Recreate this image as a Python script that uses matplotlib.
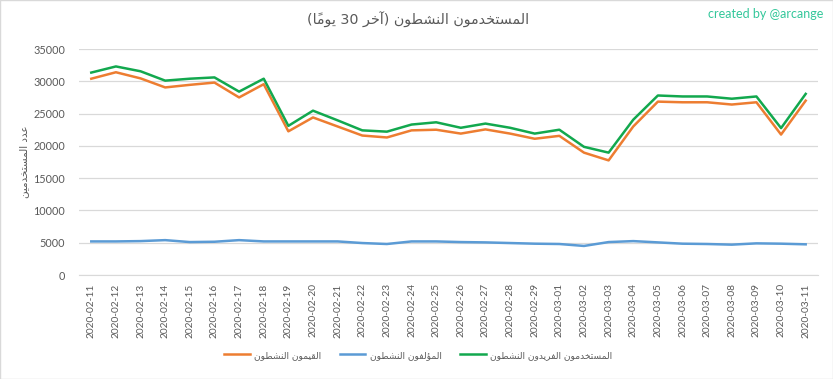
import matplotlib
matplotlib.use("Agg")
import matplotlib.pyplot as plt
from matplotlib.patches import Rectangle
import pandas as pd

# labels
title = "المستخدمون النشطون (آخر 30 يومًا)"
ylabel = "عدد المستخدمين"
credit = "created by @arcange"
names = ["القيمون النشطون", "المؤلفون النشطون", "المستخدمون الفريدون النشطون"]
dates = pd.date_range("2020-02-11", periods=30).strftime("%Y-%m-%d").tolist()

# values
curators = [30400, 31400, 30450, 29050, 29450, 29800, 27500, 29550, 22250, 24400,
            23000, 21600, 21300, 22400, 22500, 21900, 22550, 21900, 21100, 21550,
            18950, 17750, 23000, 26850, 26750, 26750, 26400, 26750, 21750, 27000]
authors = [5200, 5200, 5250, 5400, 5100, 5150, 5400, 5200, 5200, 5200,
           5200, 4950, 4800, 5200, 5200, 5100, 5050, 4950, 4850, 4800,
           4500, 5100, 5250, 5050, 4850, 4800, 4700, 4900, 4850, 4750]
unique = [31350, 32300, 31550, 30100, 30400, 30600, 28400, 30400, 23100, 25450,
          23950, 22400, 22200, 23300, 23650, 22800, 23450, 22800, 21900, 22500,
          19850, 18950, 24050, 27800, 27650, 27650, 27300, 27650, 22750, 28050]

# matplotlib has no arabic shaping, so do it by hand: pick contextual
# presentation forms, then put everything in visual (left to right) order
FORMS = {  # isolated, final, initial, medial
    "ا": ("\uFE8D", "\uFE8E", None, None),
    "آ": ("\uFE81", "\uFE82", None, None),
    "ل": ("\uFEDD", "\uFEDE", "\uFEDF", "\uFEE0"),
    "م": ("\uFEE1", "\uFEE2", "\uFEE3", "\uFEE4"),
    "س": ("\uFEB1", "\uFEB2", "\uFEB3", "\uFEB4"),
    "ت": ("\uFE95", "\uFE96", "\uFE97", "\uFE98"),
    "خ": ("\uFEA5", "\uFEA6", "\uFEA7", "\uFEA8"),
    "د": ("\uFEA9", "\uFEAA", None, None),
    "و": ("\uFEED", "\uFEEE", None, None),
    "ن": ("\uFEE5", "\uFEE6", "\uFEE7", "\uFEE8"),
    "ش": ("\uFEB5", "\uFEB6", "\uFEB7", "\uFEB8"),
    "ط": ("\uFEC1", "\uFEC2", "\uFEC3", "\uFEC4"),
    "ر": ("\uFEAD", "\uFEAE", None, None),
    "ي": ("\uFEF1", "\uFEF2", "\uFEF3", "\uFEF4"),
    "ع": ("\uFEC9", "\uFECA", "\uFECB", "\uFECC"),
    "ق": ("\uFED5", "\uFED6", "\uFED7", "\uFED8"),
    "ؤ": ("\uFE85", "\uFE86", None, None),
    "ف": ("\uFED1", "\uFED2", "\uFED3", "\uFED4"),
}
MARKS = {"\u064B"}


def shape(s):
    chars = list(s)
    n = len(chars)
    out = []
    for i, c in enumerate(chars):
        if c not in FORMS:
            out.append(c)
            continue
        j = i - 1
        while j >= 0 and chars[j] in MARKS:
            j -= 1
        k = i + 1
        while k < n and chars[k] in MARKS:
            k += 1
        prev_j = j >= 0 and chars[j] in FORMS and FORMS[chars[j]][2] is not None
        next_j = k < n and chars[k] in FORMS and FORMS[c][2] is not None
        iso, fin, ini, med = FORMS[c]
        if prev_j and next_j:
            out.append(med)
        elif prev_j:
            out.append(fin)
        elif next_j:
            out.append(ini)
        else:
            out.append(iso)
    clusters = []
    for c in out:
        if c in MARKS and clusters:
            # mark glyph draws to the right of its origin, so it goes first
            clusters[-1] = c + clusters[-1]
        elif c.isdigit() and clusters and clusters[-1].isdigit():
            clusters[-1] += c
        else:
            clusters.append(c)
    mirror = {"(": ")", ")": "("}
    return "".join(mirror.get(c, c) for c in clusters[::-1])


plt.rcParams["font.family"] = ["Lato", "DejaVu Sans"]
grey = "#595959"

fig = plt.figure(figsize=(8.33, 3.79), dpi=100)
ax = fig.add_axes([0.0948, 0.2744, 0.8872, 0.5963])

x = range(len(dates))
l1, = ax.plot(x, curators, color="#ED7D31", lw=1.8)
l2, = ax.plot(x, authors, color="#5B9BD5", lw=1.8)
l3, = ax.plot(x, unique, color="#12A84E", lw=1.8)

ax.set_xlim(-0.5, len(dates) - 0.5)
ax.set_ylim(0, 35000)
ax.set_yticks(range(0, 35001, 5000))
ax.set_xticks(list(x))
ax.set_xticklabels(dates, rotation=90)
ax.grid(axis="y", color="#D9D9D9", lw=0.9)
ax.set_axisbelow(True)
for s in ["top", "right", "left"]:
    ax.spines[s].set_visible(False)
ax.spines["bottom"].set_color("#D9D9D9")
ax.tick_params(axis="both", length=0, colors=grey)
ax.tick_params(axis="y", pad=10, labelsize=7.8)
ax.tick_params(axis="x", pad=6, labelsize=7.3)

ax.set_ylabel(shape(ylabel), fontsize=7.5, color=grey, family="DejaVu Sans")
ax.yaxis.set_label_coords(-0.068, 0.5)

fig.text(0.502, 0.947, shape(title), ha="center", va="center", fontsize=10.3,
         color=grey, family="DejaVu Sans")
fig.text(0.988, 0.963, credit, ha="right", va="center", fontsize=9, color="#33C79A")

fig.legend([l1, l2, l3], [shape(t) for t in names], loc="center",
           bbox_to_anchor=(0.502, 0.063), ncol=3, frameon=False,
           labelcolor=grey, handlelength=2.8, handletextpad=0.5, columnspacing=2.0,
           prop={"family": "DejaVu Sans", "size": 6.6})

fig.patches.append(Rectangle((0.0006, 0.0013), 0.9988, 0.9974, transform=fig.transFigure,
                             fill=False, edgecolor="#D9D9D9", lw=1))

fig.savefig("out.png", dpi=100)
